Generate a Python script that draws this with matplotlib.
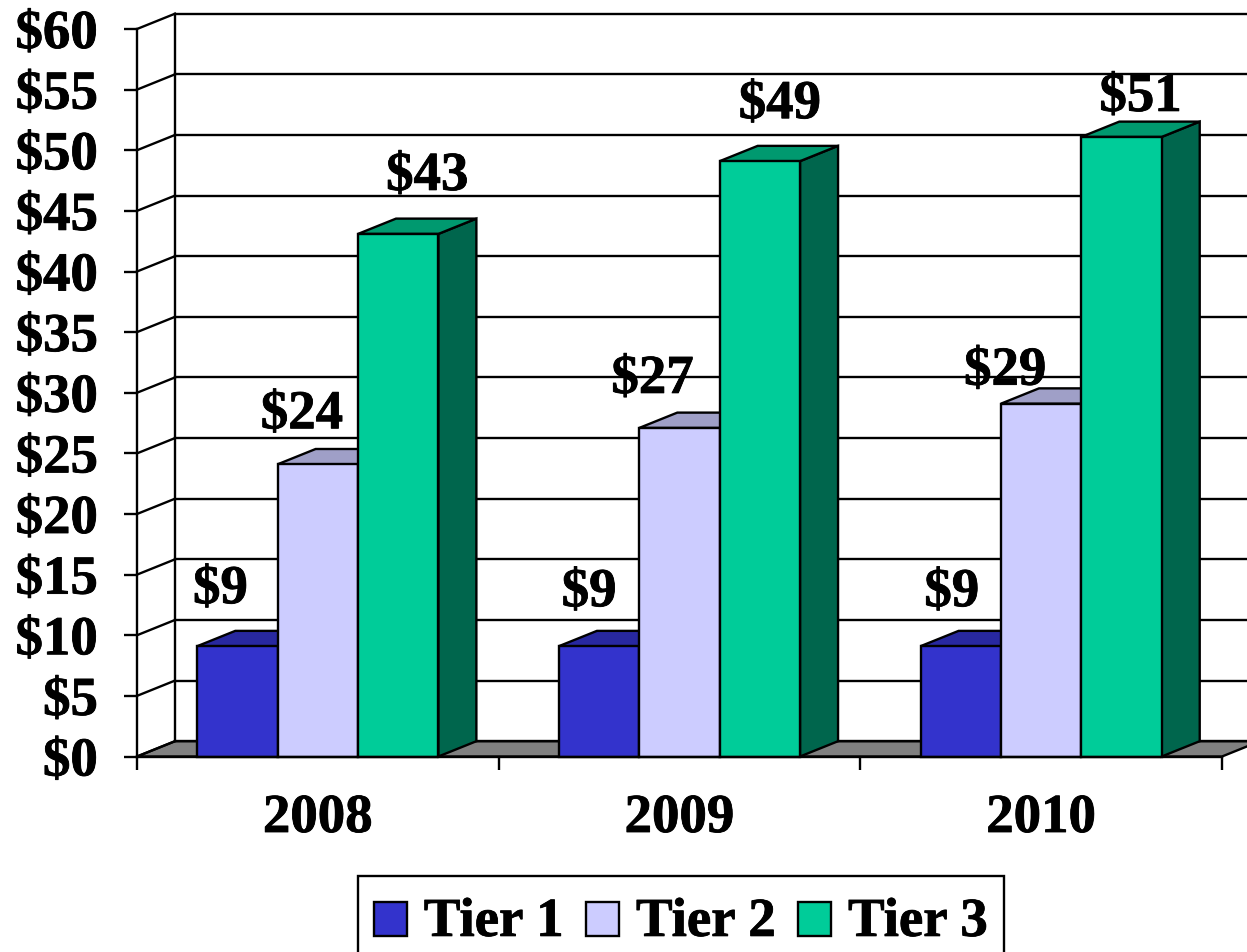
import matplotlib
matplotlib.use("Agg")
import matplotlib.pyplot as plt
import matplotlib.patheffects as pe
from matplotlib.patches import Polygon, Patch, Rectangle
from matplotlib.legend_handler import HandlerPatch
from matplotlib.ticker import FuncFormatter

years = ["2008", "2009", "2010"]
series_names = ["Tier 1", "Tier 2", "Tier 3"]
tier1 = [9.1, 9.1, 9.1]
tier2 = [24.1, 27.1, 29.1]
tier3 = [43.1, 49.1, 51.1]
y_ticks = list(range(0, 65, 5))

W, H = 1247, 952
front_colors = ["#3333CC", "#CCCCFF", "#00CC99"]
top_colors = ["#2828A0", "#9F9FC7", "#00996F"]
side_colors = ["#1F1F7A", "#7A7A99", "#00664D"]
LW = 1.7
FS = 39.5
heavy = [pe.withStroke(linewidth=0.6, foreground="black")]

# manual label offsets in pixels from the front-top-centre of each bar
label_offsets = [
    [(-17, 56), (-16, 49), (29, 57)],
    [(-10, 53), (-27, 48), (20, 56)],
    [(-9, 53), (-36, 32), (19, 39)],
]

plt.rcParams["font.family"] = ["Liberation Serif", "DejaVu Serif"]
plt.rcParams["font.weight"] = "bold"
plt.rcParams["font.size"] = FS

fig = plt.figure(figsize=(W / 100, H / 100), dpi=100, facecolor="white")
ax = fig.add_axes([137 / W, (H - 756.5) / H, (1222 - 137) / W, (756.5 - 29) / H])
ax.set_xlim(0, 3)
ax.set_ylim(0, 60)
ax.patch.set_visible(False)

dx = 38 / (1085 / 3)        # depth in category units
dy = 15.3 / (727.5 / 60)    # depth in value units
bar_w = 1 / 4.5

# floor
ax.add_patch(Polygon([(0, 0), (3, 0), (3 + dx, dy), (dx, dy)], closed=True, facecolor="#808080",
                     edgecolor="black", lw=LW, clip_on=False, zorder=1))
# walls: back gridlines and the diagonal side-wall lines
for v in y_ticks:
    ax.plot([dx, 3 + dx], [v + dy, v + dy], color="black", lw=LW, clip_on=False, zorder=1)
    ax.plot([0, dx], [v, v + dy], color="black", lw=LW, clip_on=False, zorder=1)
ax.plot([dx, dx], [dy, 60 + dy], color="black", lw=LW, clip_on=False, zorder=1)

# bars
for g in range(len(years)):
    for s, vals in enumerate([tier1, tier2, tier3]):
        v = vals[g]
        x0 = g + (1 - 3 * bar_w) / 2 + s * bar_w
        x1 = x0 + bar_w
        z = 3 + s + g * 4
        ax.add_patch(Polygon([(x1, 0), (x1 + dx, dy), (x1 + dx, v + dy), (x1, v)], closed=True,
                             facecolor=side_colors[s], edgecolor="black", lw=LW, clip_on=False, zorder=z))
        ax.add_patch(Polygon([(x0, v), (x1, v), (x1 + dx, v + dy), (x0 + dx, v + dy)], closed=True,
                             facecolor=top_colors[s], edgecolor="black", lw=LW, clip_on=False, zorder=z))
        ax.bar(x0, v, width=bar_w, align="edge", color=front_colors[s], edgecolor="black", lw=LW,
               zorder=z, clip_on=False)
for g in range(len(years)):
    for s, vals in enumerate([tier1, tier2, tier3]):
        v = vals[g]
        xc = g + (1 - 3 * bar_w) / 2 + (s + 0.5) * bar_w
        ox, oy = label_offsets[g][s]
        ax.annotate(f"${v:.0f}", (xc, v), xytext=(ox * 0.72, oy * 0.72), textcoords="offset points",
                    ha="center", va="center", fontsize=FS, fontweight="bold", color="black", zorder=40,
                    path_effects=heavy)

# axes
for name in ["top", "right"]:
    ax.spines[name].set_visible(False)
for name in ["left", "bottom"]:
    ax.spines[name].set_linewidth(LW)
    ax.spines[name].set_zorder(30)
ax.set_yticks(y_ticks)
ax.yaxis.set_major_formatter(FuncFormatter(lambda v, _: f"${v:.0f}"))
ax.tick_params(axis="y", length=9.4, width=LW, pad=18.8, labelsize=FS)
ax.set_xticks([0, 1, 2, 3])
ax.set_xticklabels([])
ax.set_xticks([0.5, 1.5, 2.5], minor=True)
ax.set_xticklabels(years, minor=True)
ax.tick_params(axis="x", which="major", length=9.4, width=LW)
ax.tick_params(axis="x", which="minor", length=0, pad=27, labelsize=FS)
for lab in ax.get_yticklabels():
    lab.set_path_effects(heavy)
for lab in ax.get_xticklabels(minor=True):
    lab.set_path_effects(heavy)


def low_square(legend, orig_handle, xdescent, ydescent, width, height, fontsize):
    return Rectangle((-xdescent, -ydescent - 6), width, height)


handles = [Patch(facecolor=c, edgecolor="black", lw=LW) for c in front_colors]
leg = fig.legend(handles, series_names, loc="upper left", bbox_to_anchor=(358 / W, (H - 876) / H),
                 bbox_transform=fig.transFigure, borderaxespad=0, ncol=3, fancybox=False,
                 framealpha=1, facecolor="white", edgecolor="black", borderpad=0.29,
                 handlelength=0.6, handleheight=0.58, handletextpad=0.31, columnspacing=0.41,
                 prop={"family": "Liberation Serif", "weight": "bold", "size": FS},
                 handler_map={Patch: HandlerPatch(patch_func=low_square)})
leg.get_frame().set_linewidth(LW)
for t in leg.get_texts():
    t.set_position((0, -6))
    t.set_path_effects(heavy)

fig.savefig("out.png", dpi=100)
